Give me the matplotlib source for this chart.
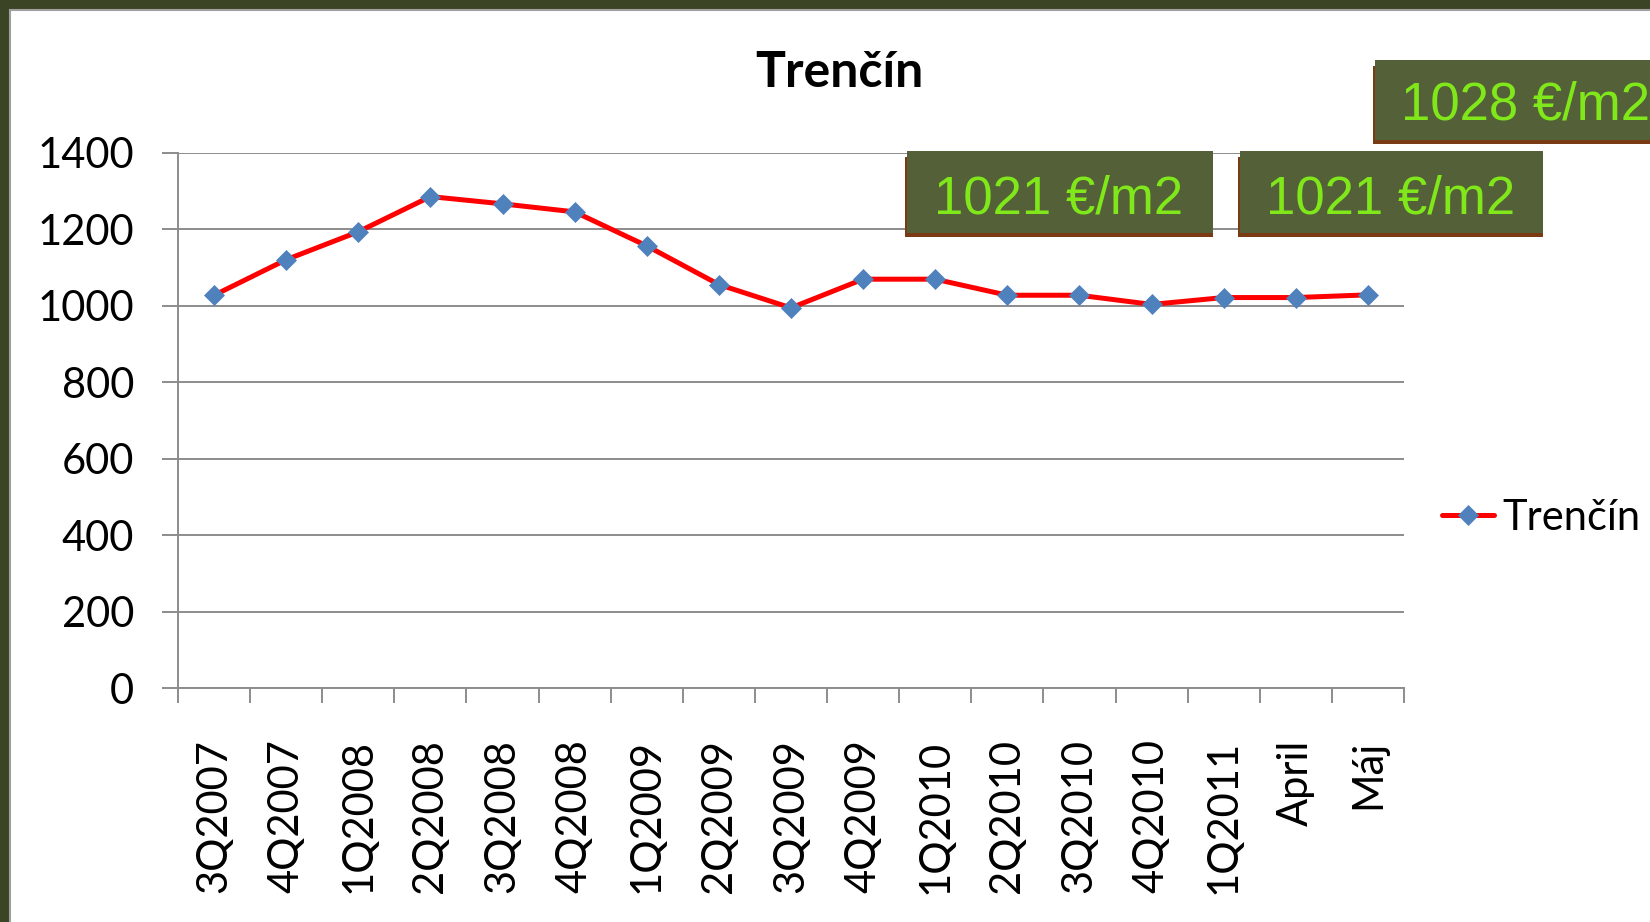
"""
Trenčín - average price per m2, 3Q2007 to Máj 2011.
"""

import matplotlib
matplotlib.use("Agg")
import matplotlib.pyplot as plt
from matplotlib.patches import Rectangle

CATEGORIES = ["3Q2007", "4Q2007", "1Q2008", "2Q2008", "3Q2008", "4Q2008",
              "1Q2009", "2Q2009", "3Q2009", "4Q2009", "1Q2010", "2Q2010",
              "3Q2010", "4Q2010", "1Q2011", "April", "Máj"]
PRICES = [1027, 1120, 1193, 1285, 1266, 1245, 1156, 1055, 994, 1069, 1069,
          1027, 1027, 1003, 1021, 1021, 1028]
SERIES = "Trenčín"
Y_TICKS = [0, 200, 400, 600, 800, 1000, 1200, 1400]
# callout labels: index into PRICES for the last three periods
CALLOUTS = [14, 15, 16]

W, H = 1650, 922
GRAY = "#8c8c8c"
BOX = "#546138"
SHADOW = "#7a3a14"
LIME = "#80e81a"
TICK_FONT = "Lato"
BOX_FONT = "Liberation Sans"


def px_rect(fig, x0, y0, x1, y1, **kw):
    # rectangle given in pixel coords, y measured from the top
    r = Rectangle((x0 / W, 1 - y1 / H), (x1 - x0) / W, (y1 - y0) / H,
                  transform=fig.transFigure, **kw)
    fig.add_artist(r)
    return r


def main():
    fig = plt.figure(figsize=(W / 100, H / 100), dpi=100, facecolor="#3b4526")

    # white slide panel
    px_rect(fig, 10, 10, W + 20, H + 20, facecolor="white",
            edgecolor="#a0a0a0", linewidth=1.5, zorder=0)

    ax = fig.add_axes([178 / W, 1 - 688 / H, (1404 - 178) / W, (688 - 152.6) / H])
    ax.set_facecolor("none")

    x = list(range(len(CATEGORIES)))
    ax.plot(x, PRICES, color="red", linewidth=3.6, marker="D",
            markersize=10.2, markerfacecolor="#4f81bd",
            markeredgecolor="#4f81bd", markeredgewidth=0.5, label=SERIES,
            zorder=3, solid_capstyle="round")

    ax.set_xlim(-0.5, len(CATEGORIES) - 0.5)
    ax.set_ylim(0, 1400)
    ax.set_yticks(Y_TICKS)
    ax.set_yticklabels([str(v) for v in Y_TICKS], fontsize=30, family=TICK_FONT)
    ax.set_xticks(x)
    ax.set_xticklabels(CATEGORIES, rotation=90, fontsize=30, family=TICK_FONT,
                       va="top", ha="center")
    ax.set_xticks([i - 0.5 for i in range(len(CATEGORIES) + 1)], minor=True)

    ax.tick_params(axis="x", which="major", length=0, pad=37)
    ax.tick_params(axis="x", which="minor", length=11, width=1.4, color=GRAY)
    ax.tick_params(axis="y", length=11.5, width=1.4, color=GRAY, pad=20)

    ax.grid(axis="y", color=GRAY, linewidth=1.4, zorder=1)
    ax.set_axisbelow(True)
    for side in ("top", "right"):
        ax.spines[side].set_visible(False)
    for side in ("left", "bottom"):
        ax.spines[side].set_color(GRAY)
        ax.spines[side].set_linewidth(1.4)

    fig.text(839 / W, 1 - 87 / H, SERIES, ha="center", va="baseline",
             fontsize=36, fontweight="bold", family=TICK_FONT)

    ax.legend(loc="center left", bbox_to_anchor=(1442 / W, 1 - 518 / H),
              bbox_transform=fig.transFigure, frameon=False,
              prop={"family": TICK_FONT, "size": 30}, handlelength=1.25,
              handletextpad=0.2, borderpad=0, borderaxespad=0)

    # callout boxes --------------------------------------------------------
    boxes = [(905, 151, 1213, 237, "center"),
             (1238, 151, 1543, 237, "center"),
             (1373, 60, W + 20, 144, "left")]
    for (x0, y0, x1, y1, ha), idx in zip(boxes, CALLOUTS):
        px_rect(fig, x0, y0 + 6, x1, y1, facecolor=SHADOW,
                edgecolor="none", zorder=5)
        px_rect(fig, x0 + 2, y0, x1, y1 - 4, facecolor=BOX,
                edgecolor="none", zorder=6)
        tx = (x0 + x1) / 2 if ha == "center" else 1401
        fig.text(tx / W, 1 - (y1 - 24) / H, f"{PRICES[idx]} €/m2",
                 ha=ha, va="baseline", fontsize=38, color=LIME,
                 family=BOX_FONT, zorder=7)

    fig.savefig("out.png", dpi=100, facecolor=fig.get_facecolor())


if __name__ == "__main__":
    main()
